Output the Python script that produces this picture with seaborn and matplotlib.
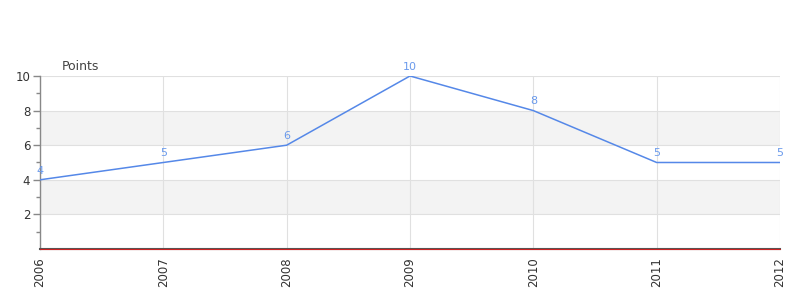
import matplotlib
matplotlib.use("Agg")
import matplotlib.pyplot as plt
import seaborn as sns
import pandas as pd

years = ["2006", "2007", "2008", "2009", "2010", "2011", "2012"]
points = [4, 5, 6, 10, 8, 5, 5]
title = "Points"

sns.set_style("white")
plt.rcParams["font.family"] = ["DejaVu Sans"]

df = pd.DataFrame({"x": range(len(years)), "y": points})

fig = plt.figure(figsize=(8, 3), dpi=100)
ax = fig.add_axes([0.05, 0.17, 0.925, 0.5767])

# bands
for lo, hi in [(2, 4), (6, 8)]:
    ax.axhspan(lo, hi, color="#f3f3f3", zorder=0, lw=0)

line_color = "#5588e8"
sns.lineplot(data=df, x="x", y="y", ax=ax, color=line_color, linewidth=1.1, zorder=3)

for xi, yi in zip(df["x"], df["y"]):
    ax.annotate(str(yi), (xi, yi), xytext=(0, 3), textcoords="offset points",
                ha="center", va="bottom", fontsize=8, color="#6a9aec", zorder=4)

ax.set_xlim(0, len(years) - 1)
ax.set_ylim(0, 10)
ax.set_xticks(range(len(years)))
ax.set_xticklabels(years, rotation=90, fontsize=8.5, color="#333333")
ax.set_yticks([2, 4, 6, 8, 10])
ax.set_yticklabels(["2", "4", "6", "8", "10"], fontsize=8.5, color="#333333")
ax.set_yticks([1, 3, 5, 7, 9], minor=True)
ax.tick_params(axis="y", which="major", length=5, color="#888888", width=1, pad=2, left=True)
ax.tick_params(axis="y", which="minor", length=3, color="#888888", width=1, left=True)
ax.tick_params(axis="x", length=0, pad=6, bottom=True)
ax.grid(True, color="#e0e0e0", linewidth=0.8, zorder=1)
ax.set_axisbelow(True)
ax.set_xlabel("")
ax.set_ylabel("")

for s in ["top", "right"]:
    ax.spines[s].set_visible(False)
ax.spines["left"].set_color("#888888")
ax.spines["left"].set_linewidth(1)
ax.spines["bottom"].set_color("#555555")
ax.spines["bottom"].set_linewidth(1.5)
ax.axhline(0.02, color="#cc2222", linewidth=0.8, zorder=5, clip_on=False)

fig.text(62 / 800, 1 - 66 / 300, title, fontsize=9, color="#444444", ha="left", va="center")

fig.savefig("out.png", dpi=100)
